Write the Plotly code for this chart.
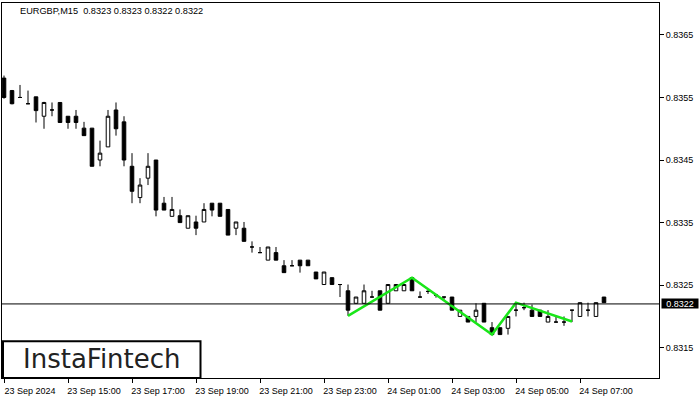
import plotly.graph_objects as go
import pandas as pd

# ---- data ----
symbol_title = "EURGBP,M15  0.8323 0.8323 0.8322 0.8322"
start_time = "2024-09-23 13:00"
bar_minutes = 15

opens = [0.83581, 0.83561, 0.83550, 0.83540, 0.83551, 0.83520, 0.83530, 0.83542, 0.83520, 0.83520,
         0.83501, 0.83501, 0.83450, 0.83471, 0.83530, 0.83511, 0.83440, 0.83390, 0.83421, 0.83450,
         0.83381, 0.83360, 0.83361, 0.83341, 0.83351, 0.83351, 0.83381, 0.83381, 0.83371, 0.83341,
         0.83341, 0.83311, 0.83302, 0.83290, 0.83302, 0.83281, 0.83281, 0.83290, 0.83290, 0.83271,
         0.83251, 0.83262, 0.83251, 0.83241, 0.83221, 0.83221, 0.83231, 0.83241, 0.83221, 0.83241,
         0.83241, 0.83262, 0.83231, 0.83240, 0.83234, 0.83231, 0.83231, 0.83200, 0.83200, 0.83200,
         0.83221, 0.83182, 0.83182, 0.83181, 0.83210, 0.83214, 0.83210, 0.83210, 0.83191, 0.83191,
         0.83191, 0.83210, 0.83200, 0.83210, 0.83200, 0.83231]
highs = [0.83585, 0.83562, 0.83570, 0.83561, 0.83551, 0.83543, 0.83542, 0.83542, 0.83520, 0.83530,
         0.83511, 0.83501, 0.83481, 0.83530, 0.83542, 0.83520, 0.83461, 0.83421, 0.83461, 0.83450,
         0.83391, 0.83391, 0.83371, 0.83361, 0.83361, 0.83381, 0.83381, 0.83381, 0.83371, 0.83351,
         0.83351, 0.83320, 0.83311, 0.83311, 0.83311, 0.83290, 0.83290, 0.83290, 0.83290, 0.83271,
         0.83271, 0.83262, 0.83251, 0.83251, 0.83231, 0.83251, 0.83241, 0.83241, 0.83251, 0.83251,
         0.83251, 0.83262, 0.83240, 0.83242, 0.83236, 0.83231, 0.83231, 0.83210, 0.83200, 0.83221,
         0.83221, 0.83191, 0.83182, 0.83200, 0.83222, 0.83222, 0.83219, 0.83210, 0.83210, 0.83200,
         0.83200, 0.83210, 0.83222, 0.83222, 0.83222, 0.83231]
lows = [0.83548, 0.83539, 0.83550, 0.83540, 0.83510, 0.83500, 0.83520, 0.83510, 0.83500, 0.83500,
        0.83489, 0.83440, 0.83440, 0.83471, 0.83489, 0.83440, 0.83381, 0.83381, 0.83410, 0.83360,
        0.83370, 0.83360, 0.83350, 0.83341, 0.83330, 0.83351, 0.83360, 0.83360, 0.83330, 0.83330,
        0.83320, 0.83302, 0.83302, 0.83290, 0.83290, 0.83270, 0.83281, 0.83270, 0.83281, 0.83260,
        0.83251, 0.83251, 0.83231, 0.83201, 0.83221, 0.83221, 0.83231, 0.83210, 0.83221, 0.83241,
        0.83241, 0.83241, 0.83231, 0.83236, 0.83230, 0.83227, 0.83210, 0.83200, 0.83191, 0.83191,
        0.83191, 0.83171, 0.83171, 0.83171, 0.83200, 0.83210, 0.83200, 0.83200, 0.83191, 0.83191,
        0.83185, 0.83191, 0.83200, 0.83200, 0.83200, 0.83222]
closes = [0.83550, 0.83540, 0.83550, 0.83540, 0.83529, 0.83542, 0.83530, 0.83510, 0.83510, 0.83510,
          0.83489, 0.83440, 0.83461, 0.83520, 0.83500, 0.83450, 0.83400, 0.83410, 0.83440, 0.83370,
          0.83370, 0.83371, 0.83350, 0.83361, 0.83341, 0.83371, 0.83370, 0.83360, 0.83330, 0.83351,
          0.83320, 0.83311, 0.83302, 0.83311, 0.83290, 0.83270, 0.83281, 0.83281, 0.83281, 0.83260,
          0.83271, 0.83251, 0.83251, 0.83210, 0.83231, 0.83241, 0.83231, 0.83210, 0.83251, 0.83251,
          0.83251, 0.83241, 0.83231, 0.83240, 0.83234, 0.83231, 0.83210, 0.83210, 0.83191, 0.83210,
          0.83191, 0.83171, 0.83171, 0.83200, 0.83210, 0.83214, 0.83200, 0.83200, 0.83200, 0.83191,
          0.83191, 0.83210, 0.83222, 0.83210, 0.83222, 0.83222]

# green pattern line: (bar index, price)
pattern_bars = [43, 51, 61, 64, 71]
pattern_prices = [0.83201, 0.83262, 0.83171, 0.83222, 0.83192]

last_price = 0.8322
last_price_label = "0.8322"

tick_times = ["2024-09-23 13:00", "2024-09-23 15:00", "2024-09-23 17:00", "2024-09-23 19:00",
              "2024-09-23 21:00", "2024-09-23 23:00", "2024-09-24 01:00", "2024-09-24 03:00",
              "2024-09-24 05:00", "2024-09-24 07:00"]
tick_labels = ["23 Sep 2024", "23 Sep 15:00", "23 Sep 17:00", "23 Sep 19:00", "23 Sep 21:00",
               "23 Sep 23:00", "24 Sep 01:00", "24 Sep 03:00", "24 Sep 05:00", "24 Sep 07:00"]
price_ticks = [0.8315, 0.8325, 0.8335, 0.8345, 0.8355, 0.8365]
logo_text = "InstaFintech"

# ---- build ----
t0 = pd.Timestamp(start_time)
step = pd.Timedelta(minutes=bar_minutes)
times = [t0 + i * step for i in range(len(opens))]
pattern_times = [t0 + b * step for b in pattern_bars]

x_lo = t0 - 0.25 * step
x_hi = t0 + 81.875 * step

fig = go.Figure()
fig.add_trace(go.Candlestick(
    x=times, open=opens, high=highs, low=lows, close=closes,
    increasing=dict(line=dict(color="black", width=1), fillcolor="white"),
    decreasing=dict(line=dict(color="black", width=1), fillcolor="black"),
    whiskerwidth=0, hoverinfo="skip", showlegend=False,
))
fig.add_trace(go.Scatter(
    x=pattern_times, y=pattern_prices, mode="lines",
    line=dict(color="#19e619", width=2.5), hoverinfo="skip", showlegend=False,
))

font_main = "Liberation Sans, Arial, sans-serif"

fig.update_layout(
    width=700, height=400,
    margin=dict(l=2, r=41, t=3, b=22),
    paper_bgcolor="white", plot_bgcolor="white",
    boxgap=0.36,
    font=dict(family=font_main, size=9, color="black"),
    showlegend=False,
)
fig.update_xaxes(
    type="date", range=[x_lo.strftime("%Y-%m-%d %H:%M:%S.%f"), x_hi.strftime("%Y-%m-%d %H:%M:%S.%f")],
    tickvals=tick_times, ticktext=tick_labels,
    showgrid=False, zeroline=False,
    showline=True, mirror=True, linecolor="black", linewidth=1,
    ticks="outside", ticklen=4, tickcolor="black", tickwidth=1,
    ticklabelshift=26, tickfont=dict(size=9, color="black", family=font_main),
    rangeslider=dict(visible=False), fixedrange=True,
)
fig.update_yaxes(
    side="right", range=[0.831016, 0.83701],
    tickvals=price_ticks, tickformat=".4f",
    showgrid=False, zeroline=False,
    showline=True, mirror=True, linecolor="black", linewidth=1,
    ticks="outside", ticklen=4, tickcolor="black", tickwidth=1,
    tickfont=dict(size=9, color="black", family=font_main), fixedrange=True,
)

# last price line
fig.add_shape(type="line", xref="paper", yref="y", x0=0, x1=1, y0=last_price, y1=last_price,
              line=dict(color="black", width=1), layer="above")
# last price label
fig.add_annotation(xref="paper", yref="y", x=1, y=last_price, xanchor="left", yanchor="middle",
                   xshift=2, text=last_price_label, showarrow=False,
                   font=dict(color="white", size=9, family=font_main),
                   bgcolor="black", width=36, height=9, borderpad=0, align="center")
# title
fig.add_annotation(xref="paper", yref="paper", x=(18 - 2) / 657, y=1 - 7.5 / 375,
                   xanchor="left", yanchor="middle", text=symbol_title, showarrow=False,
                   font=dict(color="black", size=9.2, family=font_main))
# logo box
fig.add_shape(type="rect", xref="paper", yref="paper", x0=1 / 657, x1=198.5 / 657,
              y0=0, y1=(378 - 341.3) / 375, line=dict(color="black", width=2),
              fillcolor="white", layer="above")
fig.add_annotation(xref="paper", yref="paper", x=100 / 657, y=(378 - 358.5) / 375,
                   xanchor="center", yanchor="middle", text=logo_text, showarrow=False,
                   font=dict(color="#222222", size=26, family="DejaVu Sans"))

fig.write_html("out.html", config={"displayModeBar": False, "staticPlot": True},
               post_script="document.body.style.margin='0px';document.body.style.overflow='hidden';")
